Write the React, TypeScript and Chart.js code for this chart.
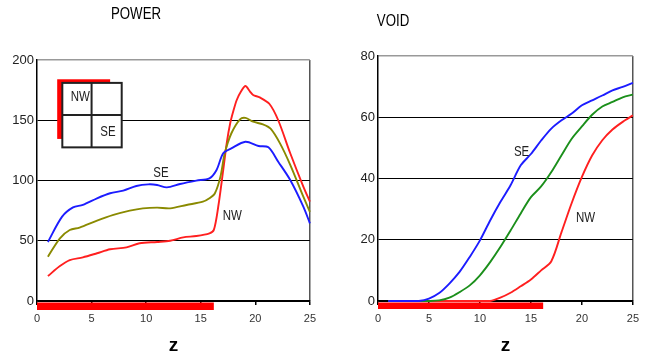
import React, { useEffect, useRef } from "react";
import { Chart, registerables } from "chart.js";
Chart.register(...registerables);

const FONT = "'Liberation Sans', Arial, sans-serif";
const NARROW = 0.82;

// ---------- POWER (left) ----------
const powerSE_z = [1.0, 2.3, 3.3, 4.2, 5.5, 6.7, 7.9, 9.1, 10.2, 11.0, 11.9, 13.1, 14.6, 15.8, 16.45, 17.06, 17.8, 19.1, 20.3, 21.2, 22.1, 23.2, 24.4, 25];
const powerSE = [49, 70, 77.7, 79.7, 85.2, 89.4, 91.6, 95.4, 96.8, 96.3, 94.3, 97.1, 99.9, 101.8, 108.7, 122.6, 126.7, 132.2, 128.6, 127.5, 115.6, 100.4, 78.3, 64.5];

const powerAvg_z = [1.0, 2.1, 3.0, 3.9, 5.5, 7.0, 8.5, 9.7, 11.0, 12.2, 13.7, 15.2, 15.8, 16.3, 16.8, 17.2, 17.8, 18.6, 19.1, 19.8, 20.7, 21.4, 22.25, 23.2, 24.4, 25];
const powerAvg = [36.8, 52, 58.9, 60.9, 66.7, 71.4, 75, 76.9, 77.5, 76.9, 79.7, 82.4, 85.2, 89.4, 103, 122.6, 139, 150.8, 152, 148.8, 146.6, 143, 131, 113, 86.6, 74];

const powerNW_z = [1.0, 2.1, 3.0, 4.2, 5.5, 6.7, 8.2, 9.4, 11.0, 12.2, 13.4, 14.6, 15.8, 16.2, 16.6, 17.06, 17.4, 17.7, 18.0, 18.3, 18.7, 19.1, 19.5, 19.8, 20.4, 21.3, 22.1, 23.2, 24.4, 25];
const powerNW = [20.7, 29, 34, 36.2, 39.6, 42.9, 44.5, 47.9, 49, 50, 52.8, 53.9, 56.2, 59, 78, 108.7, 132, 147.5, 158, 166.8, 174, 178.4, 174, 171, 169, 163.5, 150, 122.6, 94.9, 82.4];

// ---------- VOID (right) ----------
const void_z = [1, 2, 3, 4, 5, 6, 7, 8, 9, 10, 11, 12, 13, 14, 15, 16, 17, 18, 19, 20, 21, 22, 23, 24, 25];
const voidSE = [0, 0, 0, 0, 0.8, 2.6, 5.7, 9.5, 14.4, 19.8, 26.3, 32.3, 37.8, 44.3, 48, 52.4, 56.3, 59, 61.2, 63.9, 65.5, 67.1, 68.8, 69.9, 71.2];
const voidAvg = [0, 0, 0, 0, 0, 0.2, 1.1, 2.9, 5.1, 8.4, 12.7, 17.6, 23, 28.6, 33.9, 37.4, 42.1, 47.6, 53, 57, 60.8, 63.5, 65, 66.5, 67.4];
const voidNW = [0, 0, 0, 0, 0, 0, 0, 0, 0, 0, 0, 1.1, 2.7, 4.8, 7, 10, 13, 22.5, 32, 40.5, 47.5, 52.5, 56, 58.5, 60.6];

// heated length shown as the red bar under the z axis
const heatedRange = [0, 16.2];

const BLUE = "#1c1cff";
const OLIVE = "#8a8a00";
const RED = "#ff1f1f";
const GREEN = "#1b8f1b";

const pts = (xs: number[], ys: number[]) => xs.map((x, i) => ({ x, y: ys[i] }));

function narrowText(ctx: CanvasRenderingContext2D, text: string, x: number, y: number, sx = NARROW) {
  ctx.save();
  ctx.translate(x, y);
  ctx.scale(sx, 1);
  ctx.fillText(text, 0, 0);
  ctx.restore();
}

const decoPlugin = {
  id: "deco",
  afterDraw(chart: any, _args: any, opts: any) {
    const { ctx, chartArea, scales } = chart;
    const xs = scales.x;
    const ys = scales.y;
    ctx.save();
    // red bar
    ctx.fillStyle = "#ff0000";
    const b0 = xs.getPixelForValue(opts.bar[0]);
    const b1 = xs.getPixelForValue(opts.bar[1]);
    ctx.fillRect(b0, chartArea.bottom + 1.5, b1 - b0, opts.barH);
    // title
    ctx.fillStyle = "#000";
    ctx.textAlign = "center";
    ctx.textBaseline = "middle";
    ctx.font = `17px ${FONT}`;
    narrowText(ctx, opts.title, opts.titleX, opts.titleY, 0.78);
    // curve labels
    ctx.font = `14px ${FONT}`;
    ctx.fillStyle = "#222";
    for (const l of opts.labels) {
      narrowText(ctx, l.text, xs.getPixelForValue(l.x), ys.getPixelForValue(l.y));
    }
    // inset diagram
    if (opts.inset) {
      const r = opts.inset;
      const rx0 = xs.getPixelForValue(r.red[0]);
      const rx1 = xs.getPixelForValue(r.red[1]);
      const ry0 = ys.getPixelForValue(r.red[2]);
      const ry1 = ys.getPixelForValue(r.red[3]);
      ctx.fillStyle = "#ff0000";
      ctx.fillRect(rx0, ry0, rx1 - rx0, ry1 - ry0);
      const gx0 = xs.getPixelForValue(r.box[0]);
      const gx1 = xs.getPixelForValue(r.box[1]);
      const gy0 = ys.getPixelForValue(r.box[2]);
      const gy1 = ys.getPixelForValue(r.box[3]);
      ctx.fillStyle = "#fff";
      ctx.fillRect(gx0, gy0, gx1 - gx0, gy1 - gy0);
      ctx.strokeStyle = "#222";
      ctx.lineWidth = 2;
      ctx.strokeRect(gx0, gy0, gx1 - gx0, gy1 - gy0);
      const mx = xs.getPixelForValue(r.mid[0]);
      const my = ys.getPixelForValue(r.mid[1]);
      ctx.beginPath();
      ctx.moveTo(mx, gy0);
      ctx.lineTo(mx, gy1);
      ctx.moveTo(gx0, my);
      ctx.lineTo(gx1, my);
      ctx.stroke();
      ctx.fillStyle = "#222";
      ctx.font = `14px ${FONT}`;
      for (const l of r.labels) {
        narrowText(ctx, l.text, xs.getPixelForValue(l.x), ys.getPixelForValue(l.y));
      }
    }
    ctx.restore();
  },
};

function makeConfig(o: any) {
  const ds = (label: string, data: any[], color: string) => ({
    label,
    data,
    borderColor: color,
    backgroundColor: color,
    borderWidth: 1.9,
    pointRadius: 0,
    tension: 0.3,
    fill: false,
    clip: false,
  });
  return {
    type: "line",
    data: {
      datasets: o.series.map((s: any) => ds(s.label, s.data, s.color)),
    },
    plugins: [decoPlugin],
    options: {
      responsive: false,
      animation: false,
      devicePixelRatio: 1,
      layout: { padding: o.padding },
      plugins: {
        legend: { display: false },
        tooltip: { enabled: false },
        title: { display: false },
        deco: o.deco,
      },
      scales: {
        x: {
          type: "linear",
          min: 0,
          max: 25,
          ticks: {
            stepSize: 5,
            font: { family: FONT, size: 11 },
            color: "#333",
            padding: 7,
            maxRotation: 0,
          },
          grid: {
            color: (c: any) => (c.tick && c.tick.value === 25 ? "#555" : "rgba(0,0,0,0)"),
            tickColor: "#000",
            tickLength: 4,
            lineWidth: 1.5,
          },
          border: { color: "#000", width: 1.5 },
          title: {
            display: true,
            text: "z",
            color: "#000",
            font: { family: FONT, size: 19, weight: "bold", lineHeight: 1.1 },
            padding: 0,
          },
          afterFit: (s: any) => {
            s.height = 55;
          },
        },
        y: {
          min: 0,
          max: o.yMax,
          ticks: {
            stepSize: o.yStep,
            font: { family: FONT, size: 13 },
            color: "#222",
            padding: 3,
          },
          grid: {
            drawTicks: false,
            color: (c: any) => (c.tick && c.tick.value === o.yMax ? "#999" : "#000"),
            lineWidth: (c: any) => (c.tick && c.tick.value === o.yMax ? 1.5 : 1),
          },
          border: { color: "#000", width: 1.5 },
          afterFit: (s: any) => {
            s.width = 37;
          },
        },
      },
    },
  };
}

function ChartBox({ config, left, width }: { config: any; left: number; width: number }) {
  const ref = useRef<HTMLCanvasElement | null>(null);
  useEffect(() => {
    const c = new Chart(ref.current as HTMLCanvasElement, config);
    return () => c.destroy();
  }, []);
  return (
    <div style={{ position: "absolute", left, top: 0, width, height: 356 }}>
      <canvas ref={ref} width={width} height={356} style={{ display: "block" }} />
    </div>
  );
}

export default function App() {
  const powerConfig = makeConfig({
    yMax: 200,
    yStep: 50,
    padding: { left: 0, right: 13, top: 60, bottom: 0 },
    series: [
      { label: "SE", data: pts(powerSE_z, powerSE), color: BLUE },
      { label: "Average", data: pts(powerAvg_z, powerAvg), color: OLIVE },
      { label: "NW", data: pts(powerNW_z, powerNW), color: RED },
    ],
    deco: {
      title: "POWER",
      titleX: 136,
      titleY: 14,
      bar: heatedRange,
      barH: 7.5,
      labels: [
        { text: "SE", x: 11.35, y: 106 },
        { text: "NW", x: 17.9, y: 70.5 },
      ],
      inset: {
        red: [1.85, 6.7, 184, 134.5],
        box: [2.32, 7.76, 181, 127.5],
        mid: [5.0, 154.4],
        labels: [
          { text: "NW", x: 3.97, y: 168.9 },
          { text: "SE", x: 6.5, y: 140.2 },
        ],
      },
    },
  });

  const voidConfig = makeConfig({
    yMax: 80,
    yStep: 20,
    padding: { left: 18, right: 9, top: 56, bottom: 0 },
    series: [
      { label: "SE", data: pts(void_z, voidSE), color: BLUE },
      { label: "Average", data: pts(void_z, voidAvg), color: GREEN },
      { label: "NW", data: pts(void_z, voidNW), color: RED },
    ],
    deco: {
      title: "VOID",
      titleX: 70,
      titleY: 21,
      bar: heatedRange,
      barH: 6.5,
      labels: [
        { text: "SE", x: 14.08, y: 48.7 },
        { text: "NW", x: 20.35, y: 27 },
      ],
      inset: null,
    },
  });

  return (
    <div style={{ position: "fixed", left: 0, top: 0, width: 646, height: 356, background: "#fff" }}>
      <ChartBox config={powerConfig} left={0} width={323} />
      <ChartBox config={voidConfig} left={323} width={323} />
    </div>
  );
}
